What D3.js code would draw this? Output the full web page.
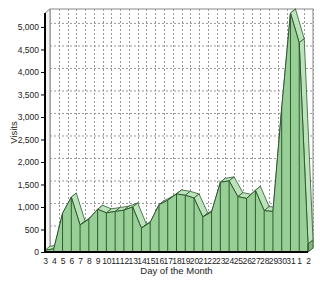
<!DOCTYPE html>
<html><head><meta charset="utf-8">
<script src="https://cdn.jsdelivr.net/npm/d3@7/dist/d3.min.js"></script>
<style>body{margin:0;background:#fff}svg{display:block}text{font-family:"Liberation Sans",Arial,sans-serif}</style>
</head><body><svg id="c" width="320" height="284"></svg>
<script>
const days = ["3","4","5","6","7","8","9","10","11","12","13","14","15","16","17","18","19","20","21","22","23","24","25","26","27","28","29","30","31","1","2"];
const visits = [40,70,860,1220,600,730,950,870,900,930,1000,530,660,1050,1150,1290,1260,1200,780,890,1550,1580,1230,1190,1370,920,900,3200,5310,4650,180];
const yTicks = [0,500,1000,1500,2000,2500,3000,3500,4000,4500,5000];

const svg = d3.select("#c");
const L = 45, R = 308, B = 252, T = 13, DX = 5, DY = 4;
const x = d3.scalePoint().domain(d3.range(days.length)).range([L, R]);
const y = d3.scaleLinear().domain([0, d3.max(visits)]).range([B, T]);

// back wall
svg.append("rect").attr("x", L+DX).attr("y", T-DY).attr("width", R-L).attr("height", B-T)
  .attr("fill", "#fff").attr("stroke", "#888").attr("stroke-width", 1);
// left wall & floor
svg.append("path").attr("d", `M${L},${T}L${L+DX},${T-DY}L${L+DX},${B-DY}L${L},${B}Z`).attr("fill","#f4f4f4").attr("stroke","#888");
svg.append("path").attr("d", `M${L},${B}L${L+DX},${B-DY}L${R+DX},${B-DY}L${R},${B}Z`).attr("fill","#f4f4f4").attr("stroke","#888");

// gridlines on back wall
const g = svg.append("g").attr("stroke", "#999").attr("stroke-width", 1).attr("stroke-dasharray", "2,2");
yTicks.slice(1).forEach(v => g.append("line").attr("x1", L+DX).attr("x2", R+DX).attr("y1", y(v)-DY+0.5).attr("y2", y(v)-DY+0.5));
d3.range(1, days.length).forEach(i => g.append("line").attr("x1", Math.round(x(i)+DX)+0.5).attr("x2", Math.round(x(i)+DX)+0.5).attr("y1", T-DY).attr("y2", B-DY));

// area
const strokeC = "#2f5a2f", frontC = "#97cf97", topC = "#bde3bd";
const a = svg.append("g");
const n = visits.length;
for (let i = 0; i < n-1; i++) {
  const x0 = x(i), x1 = x(i+1), y0 = y(visits[i]), y1 = y(visits[i+1]);
  a.append("path").attr("d", `M${x0},${y0}L${x1},${y1}L${x1+DX},${y1-DY}L${x0+DX},${y0-DY}Z`)
    .attr("fill", topC).attr("stroke", strokeC).attr("stroke-width", 0.8).attr("stroke-linejoin","round");
}
// right side face
{
  const xl = x(n-1), yl = y(visits[n-1]);
  a.append("path").attr("d", `M${xl},${yl}L${xl+DX},${yl-DY}L${xl+DX},${B-DY}L${xl},${B}Z`)
    .attr("fill", "#7fb67f").attr("stroke", strokeC).attr("stroke-width", 0.8);
}
const area = d3.area().x((d,i)=>x(i)).y0(B).y1(d=>y(d));
a.append("path").datum(visits).attr("d", area).attr("fill", frontC).attr("stroke", strokeC).attr("stroke-width", 1);
visits.forEach((v,i) => a.append("line").attr("x1", x(i)).attr("x2", x(i)).attr("y1", y(v)).attr("y2", B)
  .attr("stroke", strokeC).attr("stroke-width", 1));

// axes
const ya = svg.append("g").attr("transform", `translate(${L},0)`)
  .call(d3.axisLeft(y).tickValues(yTicks).tickSize(4).tickPadding(2).tickFormat(d3.format(",")));
ya.select(".domain").remove();
ya.selectAll("line").attr("stroke", "#000");
ya.selectAll("text").attr("font-size", 8.5).attr("fill", "#222");
svg.append("line").attr("x1", L).attr("x2", L).attr("y1", T).attr("y2", B+1).attr("stroke", "#000").attr("stroke-width", 2);

const xa = svg.append("g").attr("transform", `translate(0,${B})`)
  .call(d3.axisBottom(x).tickSize(0).tickPadding(6).tickFormat(i => days[i]));
xa.select(".domain").remove();
xa.selectAll("text").attr("font-size", 8.5).attr("fill", "#222");
svg.append("line").attr("x1", L-1).attr("x2", R).attr("y1", B).attr("y2", B).attr("stroke", "#000").attr("stroke-width", 2);

svg.append("text").attr("x", (L+R)/2).attr("y", 274).attr("text-anchor", "middle").attr("font-size", 9.5).attr("fill","#222").text("Day of the Month");
svg.append("text").attr("transform", `translate(17,${(T+B)/2}) rotate(-90)`).attr("text-anchor", "middle").attr("font-size", 9.5).attr("fill","#222").text("Visits");
</script></body></html>
